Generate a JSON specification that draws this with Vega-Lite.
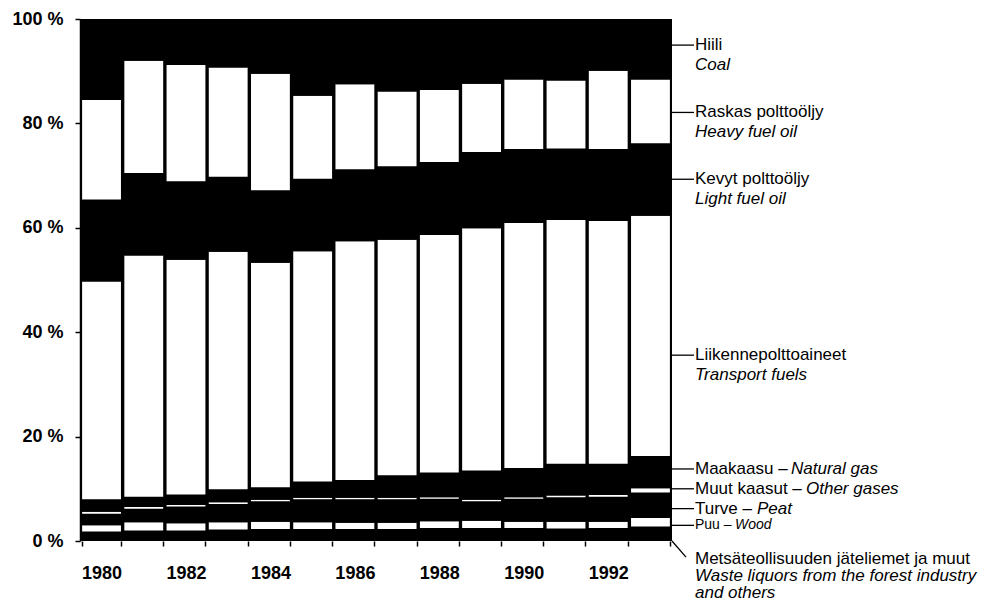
{
  "$schema": "https://vega.github.io/schema/vega-lite/v6.json",
  "width": 592,
  "height": 522,
  "autosize": "none",
  "padding": {"left": 80, "top": 19, "right": 329, "bottom": 61},
  "background": "white",
  "config": {"view": {"fill": "black", "stroke": null}, "font": "Liberation Sans"},
  "datasets": {
    "fuels": [
      {"fuel": "Metsä", "rank": 1}, {"fuel": "Puu", "rank": 2}, {"fuel": "Turve", "rank": 3},
      {"fuel": "Muut", "rank": 4}, {"fuel": "Maakaasu", "rank": 5}, {"fuel": "Liikenne", "rank": 6},
      {"fuel": "Kevyt", "rank": 7}, {"fuel": "Raskas", "rank": 8}, {"fuel": "Hiili", "rank": 9}
    ],
    "energy": [
      {"year": "1980", "fuel": "Metsä", "value": 1.8}, {"year": "1980", "fuel": "Puu", "value": 1.2}, {"year": "1980", "fuel": "Turve", "value": 2.2}, {"year": "1980", "fuel": "Muut", "value": 0.4}, {"year": "1980", "fuel": "Maakaasu", "value": 2.4}, {"year": "1980", "fuel": "Liikenne", "value": 41.7}, {"year": "1980", "fuel": "Kevyt", "value": 15.7}, {"year": "1980", "fuel": "Raskas", "value": 19.1}, {"year": "1980", "fuel": "Hiili", "value": 15.5},
      {"year": "1981", "fuel": "Metsä", "value": 2.0}, {"year": "1981", "fuel": "Puu", "value": 1.6}, {"year": "1981", "fuel": "Turve", "value": 2.6}, {"year": "1981", "fuel": "Muut", "value": 0.3}, {"year": "1981", "fuel": "Maakaasu", "value": 2.0}, {"year": "1981", "fuel": "Liikenne", "value": 46.2}, {"year": "1981", "fuel": "Kevyt", "value": 15.8}, {"year": "1981", "fuel": "Raskas", "value": 21.5}, {"year": "1981", "fuel": "Hiili", "value": 8.0},
      {"year": "1982", "fuel": "Metsä", "value": 2.0}, {"year": "1982", "fuel": "Puu", "value": 1.4}, {"year": "1982", "fuel": "Turve", "value": 3.2}, {"year": "1982", "fuel": "Muut", "value": 0.3}, {"year": "1982", "fuel": "Maakaasu", "value": 2.0}, {"year": "1982", "fuel": "Liikenne", "value": 45.0}, {"year": "1982", "fuel": "Kevyt", "value": 15.0}, {"year": "1982", "fuel": "Raskas", "value": 22.3}, {"year": "1982", "fuel": "Hiili", "value": 8.8},
      {"year": "1983", "fuel": "Metsä", "value": 2.2}, {"year": "1983", "fuel": "Puu", "value": 1.4}, {"year": "1983", "fuel": "Turve", "value": 3.5}, {"year": "1983", "fuel": "Muut", "value": 0.3}, {"year": "1983", "fuel": "Maakaasu", "value": 2.5}, {"year": "1983", "fuel": "Liikenne", "value": 45.5}, {"year": "1983", "fuel": "Kevyt", "value": 14.4}, {"year": "1983", "fuel": "Raskas", "value": 20.9}, {"year": "1983", "fuel": "Hiili", "value": 9.3},
      {"year": "1984", "fuel": "Metsä", "value": 2.3}, {"year": "1984", "fuel": "Puu", "value": 1.4}, {"year": "1984", "fuel": "Turve", "value": 3.9}, {"year": "1984", "fuel": "Muut", "value": 0.3}, {"year": "1984", "fuel": "Maakaasu", "value": 2.4}, {"year": "1984", "fuel": "Liikenne", "value": 43.0}, {"year": "1984", "fuel": "Kevyt", "value": 13.9}, {"year": "1984", "fuel": "Raskas", "value": 22.3}, {"year": "1984", "fuel": "Hiili", "value": 10.5},
      {"year": "1985", "fuel": "Metsä", "value": 2.3}, {"year": "1985", "fuel": "Puu", "value": 1.3}, {"year": "1985", "fuel": "Turve", "value": 4.4}, {"year": "1985", "fuel": "Muut", "value": 0.3}, {"year": "1985", "fuel": "Maakaasu", "value": 3.1}, {"year": "1985", "fuel": "Liikenne", "value": 44.1}, {"year": "1985", "fuel": "Kevyt", "value": 13.9}, {"year": "1985", "fuel": "Raskas", "value": 15.9}, {"year": "1985", "fuel": "Hiili", "value": 14.7},
      {"year": "1986", "fuel": "Metsä", "value": 2.3}, {"year": "1986", "fuel": "Puu", "value": 1.2}, {"year": "1986", "fuel": "Turve", "value": 4.5}, {"year": "1986", "fuel": "Muut", "value": 0.3}, {"year": "1986", "fuel": "Maakaasu", "value": 3.4}, {"year": "1986", "fuel": "Liikenne", "value": 45.7}, {"year": "1986", "fuel": "Kevyt", "value": 13.8}, {"year": "1986", "fuel": "Raskas", "value": 16.3}, {"year": "1986", "fuel": "Hiili", "value": 12.5},
      {"year": "1987", "fuel": "Metsä", "value": 2.3}, {"year": "1987", "fuel": "Puu", "value": 1.2}, {"year": "1987", "fuel": "Turve", "value": 4.5}, {"year": "1987", "fuel": "Muut", "value": 0.3}, {"year": "1987", "fuel": "Maakaasu", "value": 4.3}, {"year": "1987", "fuel": "Liikenne", "value": 45.1}, {"year": "1987", "fuel": "Kevyt", "value": 14.1}, {"year": "1987", "fuel": "Raskas", "value": 14.3}, {"year": "1987", "fuel": "Hiili", "value": 13.9},
      {"year": "1988", "fuel": "Metsä", "value": 2.5}, {"year": "1988", "fuel": "Puu", "value": 1.3}, {"year": "1988", "fuel": "Turve", "value": 4.3}, {"year": "1988", "fuel": "Muut", "value": 0.3}, {"year": "1988", "fuel": "Maakaasu", "value": 4.7}, {"year": "1988", "fuel": "Liikenne", "value": 45.5}, {"year": "1988", "fuel": "Kevyt", "value": 14.0}, {"year": "1988", "fuel": "Raskas", "value": 13.8}, {"year": "1988", "fuel": "Hiili", "value": 13.6},
      {"year": "1989", "fuel": "Metsä", "value": 2.5}, {"year": "1989", "fuel": "Puu", "value": 1.4}, {"year": "1989", "fuel": "Turve", "value": 3.7}, {"year": "1989", "fuel": "Muut", "value": 0.3}, {"year": "1989", "fuel": "Maakaasu", "value": 5.6}, {"year": "1989", "fuel": "Liikenne", "value": 46.4}, {"year": "1989", "fuel": "Kevyt", "value": 14.6}, {"year": "1989", "fuel": "Raskas", "value": 13.1}, {"year": "1989", "fuel": "Hiili", "value": 12.4},
      {"year": "1990", "fuel": "Metsä", "value": 2.5}, {"year": "1990", "fuel": "Puu", "value": 1.2}, {"year": "1990", "fuel": "Turve", "value": 4.4}, {"year": "1990", "fuel": "Muut", "value": 0.3}, {"year": "1990", "fuel": "Maakaasu", "value": 5.6}, {"year": "1990", "fuel": "Liikenne", "value": 46.9}, {"year": "1990", "fuel": "Kevyt", "value": 14.2}, {"year": "1990", "fuel": "Raskas", "value": 13.3}, {"year": "1990", "fuel": "Hiili", "value": 11.6},
      {"year": "1991", "fuel": "Metsä", "value": 2.4}, {"year": "1991", "fuel": "Puu", "value": 1.3}, {"year": "1991", "fuel": "Turve", "value": 4.7}, {"year": "1991", "fuel": "Muut", "value": 0.3}, {"year": "1991", "fuel": "Maakaasu", "value": 6.1}, {"year": "1991", "fuel": "Liikenne", "value": 46.7}, {"year": "1991", "fuel": "Kevyt", "value": 13.7}, {"year": "1991", "fuel": "Raskas", "value": 13.0}, {"year": "1991", "fuel": "Hiili", "value": 11.8},
      {"year": "1992", "fuel": "Metsä", "value": 2.5}, {"year": "1992", "fuel": "Puu", "value": 1.2}, {"year": "1992", "fuel": "Turve", "value": 4.8}, {"year": "1992", "fuel": "Muut", "value": 0.3}, {"year": "1992", "fuel": "Maakaasu", "value": 6.0}, {"year": "1992", "fuel": "Liikenne", "value": 46.5}, {"year": "1992", "fuel": "Kevyt", "value": 13.8}, {"year": "1992", "fuel": "Raskas", "value": 15.0}, {"year": "1992", "fuel": "Hiili", "value": 9.9},
      {"year": "1993", "fuel": "Metsä", "value": 2.8}, {"year": "1993", "fuel": "Puu", "value": 1.6}, {"year": "1993", "fuel": "Turve", "value": 4.9}, {"year": "1993", "fuel": "Muut", "value": 0.8}, {"year": "1993", "fuel": "Maakaasu", "value": 6.2}, {"year": "1993", "fuel": "Liikenne", "value": 46.0}, {"year": "1993", "fuel": "Kevyt", "value": 13.9}, {"year": "1993", "fuel": "Raskas", "value": 12.2}, {"year": "1993", "fuel": "Hiili", "value": 11.6}
    ],
    "labels": [
      {"fi": "Hiili", "en": "Coal", "y": 95.0, "kind": "two"},
      {"fi": "Raskas polttoöljy", "en": "Heavy fuel oil", "y": 82.1, "kind": "two"},
      {"fi": "Kevyt polttoöljy", "en": "Light fuel oil", "y": 69.3, "kind": "two"},
      {"fi": "Liikennepolttoaineet", "en": "Transport fuels", "y": 35.6, "kind": "two"},
      {"fi": "Maakaasu –", "en": "Natural gas", "y": 13.8, "kind": "gas"},
      {"fi": "Muut kaasut –", "en": "Other gases", "y": 10.0, "kind": "other"},
      {"fi": "Turve –", "en": "Peat", "y": 6.2, "kind": "peat"},
      {"fi": "Puu –", "en": "Wood", "y": 3.0, "kind": "wood"},
      {"fi": "Metsäteollisuuden jäteliemet ja muut", "en": "Waste liquors from the forest industry", "en2": "and others", "y": -3.4, "kind": "three"}
    ]
  },
  "layer": [
    {
      "data": {"name": "energy"},
      "transform": [{"lookup": "fuel", "from": {"data": {"name": "fuels"}, "key": "fuel", "fields": ["rank"]}}],
      "mark": {"type": "bar"},
      "encoding": {
        "x": {
          "field": "year", "type": "ordinal",
          "scale": {"paddingInner": 0.08, "paddingOuter": 0.05},
          "axis": {
            "title": null, "labelAngle": 0, "labelOverlap": false,
            "labelExpr": "toNumber(datum.value) % 2 == 0 ? datum.label : ''",
            "tickBand": "extent", "tickSize": 5, "tickColor": "black", "tickWidth": 1.5,
            "domain": false, "labelFontSize": 18, "labelFontWeight": "bold",
            "labelColor": "black", "labelPadding": 18
          }
        },
        "y": {
          "field": "value", "type": "quantitative", "stack": "zero",
          "scale": {"domain": [0, 100], "nice": false},
          "axis": {
            "title": null, "values": [0, 20, 40, 60, 80, 100], "grid": false,
            "labelExpr": "datum.value + ' %'", "tickSize": 5, "tickColor": "black", "tickWidth": 1.5,
            "domainColor": "black", "domainWidth": 1.5, "labelFontSize": 18, "labelFontWeight": "bold",
            "labelColor": "black", "labelPadding": 12
          }
        },
        "color": {
          "field": "fuel", "type": "nominal", "legend": null,
          "scale": {
            "domain": ["Metsä", "Puu", "Turve", "Muut", "Maakaasu", "Liikenne", "Kevyt", "Raskas", "Hiili"],
            "range": ["black", "white", "black", "white", "black", "white", "black", "white", "black"]
          }
        },
        "order": {"field": "rank", "type": "quantitative"}
      }
    },
    {
      "data": {"name": "labels"},
      "transform": [{"filter": "datum.kind != 'three'"}],
      "mark": {"type": "rule", "x": {"expr": "width"}, "x2": {"expr": "width + 22"}, "color": "black", "strokeWidth": 1.3},
      "encoding": {"y": {"field": "y", "type": "quantitative"}}
    },
    {
      "data": {"values": [{"from": 0, "to": -3.1}]},
      "mark": {"type": "rule", "color": "black", "strokeWidth": 1.3},
      "encoding": {
        "x": {"value": {"expr": "width"}},
        "x2": {"value": {"expr": "width + 14"}},
        "y": {"field": "from", "type": "quantitative"},
        "y2": {"field": "to"}
      }
    },
    {
      "data": {"name": "labels"},
      "mark": {"type": "text", "x": {"expr": "width + 23"}, "align": "left", "baseline": "middle", "color": "black"},
      "encoding": {
        "y": {"field": "y", "type": "quantitative"},
        "text": {"field": "fi"},
        "size": {"condition": {"test": "datum.kind == 'wood'", "value": 14}, "value": 17}
      }
    },
    {
      "data": {"name": "labels"},
      "transform": [{"filter": "datum.kind == 'two'"}],
      "mark": {"type": "text", "x": {"expr": "width + 23"}, "dy": 20, "align": "left", "baseline": "middle", "fontStyle": "italic", "fontSize": 17, "color": "black"},
      "encoding": {
        "y": {"field": "y", "type": "quantitative"},
        "text": {"field": "en"}
      }
    },
    {
      "data": {"name": "labels"},
      "transform": [{"filter": "datum.kind == 'three'"}],
      "mark": {"type": "text", "x": {"expr": "width + 23"}, "dy": 17, "align": "left", "baseline": "middle", "fontStyle": "italic", "fontSize": 17, "color": "black"},
      "encoding": {
        "y": {"field": "y", "type": "quantitative"},
        "text": {"field": "en"}
      }
    },
    {
      "data": {"name": "labels"},
      "transform": [{"filter": "datum.kind == 'three'"}],
      "mark": {"type": "text", "x": {"expr": "width + 23"}, "dy": 34, "align": "left", "baseline": "middle", "fontStyle": "italic", "fontSize": 17, "color": "black"},
      "encoding": {
        "y": {"field": "y", "type": "quantitative"},
        "text": {"field": "en2"}
      }
    },
    {
      "data": {"name": "labels"},
      "transform": [{"filter": "datum.kind == 'gas'"}],
      "mark": {"type": "text", "x": {"expr": "width + 23"}, "dx": 96, "align": "left", "baseline": "middle", "fontStyle": "italic", "fontSize": 17, "color": "black"},
      "encoding": {"y": {"field": "y", "type": "quantitative"}, "text": {"field": "en"}}
    },
    {
      "data": {"name": "labels"},
      "transform": [{"filter": "datum.kind == 'other'"}],
      "mark": {"type": "text", "x": {"expr": "width + 23"}, "dx": 111, "align": "left", "baseline": "middle", "fontStyle": "italic", "fontSize": 17, "color": "black"},
      "encoding": {"y": {"field": "y", "type": "quantitative"}, "text": {"field": "en"}}
    },
    {
      "data": {"name": "labels"},
      "transform": [{"filter": "datum.kind == 'peat'"}],
      "mark": {"type": "text", "x": {"expr": "width + 23"}, "dx": 62, "align": "left", "baseline": "middle", "fontStyle": "italic", "fontSize": 17, "color": "black"},
      "encoding": {"y": {"field": "y", "type": "quantitative"}, "text": {"field": "en"}}
    },
    {
      "data": {"name": "labels"},
      "transform": [{"filter": "datum.kind == 'wood'"}],
      "mark": {"type": "text", "x": {"expr": "width + 23"}, "dx": 40, "align": "left", "baseline": "middle", "fontStyle": "italic", "fontSize": 14, "color": "black"},
      "encoding": {"y": {"field": "y", "type": "quantitative"}, "text": {"field": "en"}}
    }
  ]
}
